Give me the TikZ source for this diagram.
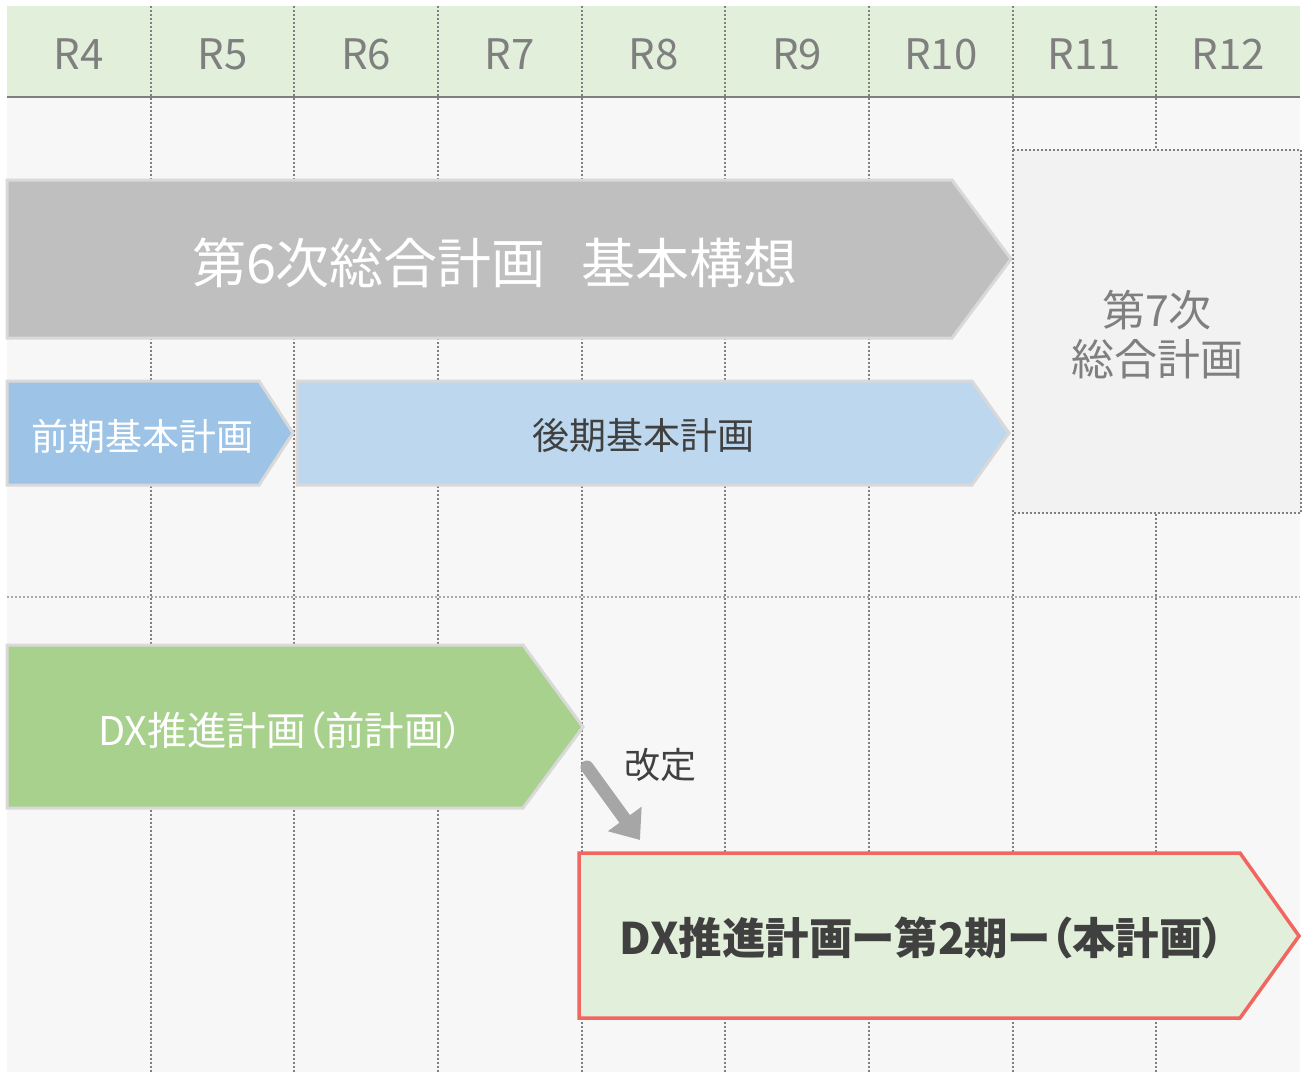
\documentclass[tikz,border=0pt]{standalone}
\usepackage{fontspec}
\setmainfont{Noto Sans CJK JP}
\newfontfamily\propfont[RawFeature=+palt]{Noto Sans CJK JP}
\usetikzlibrary{arrows.meta}
\definecolor{hdrfill}{HTML}{E2EFDA}
\definecolor{bgfill}{HTML}{F7F7F7}
\definecolor{hdrline}{HTML}{7F7F7F}
\definecolor{gridc}{HTML}{7F7F7F}
\definecolor{gridh}{HTML}{ABABAB}
\definecolor{planedge}{HTML}{D9D9D9}
\definecolor{grayplan}{HTML}{BFBFBF}
\definecolor{blueA}{HTML}{9DC3E6}
\definecolor{blueB}{HTML}{BDD7EE}
\definecolor{greenA}{HTML}{A9D18E}
\definecolor{greenB}{HTML}{E2EFDA}
\definecolor{redline}{HTML}{F26660}
\definecolor{boxfill}{HTML}{F2F2F2}
\definecolor{darktext}{HTML}{404040}
\definecolor{midtext}{HTML}{7F7F7F}
\definecolor{arrowc}{HTML}{A6A6A6}
\newcommand{\fsz}[1]{\fontsize{#1}{#1}\selectfont}
\tikzset{
  gridline/.style={draw=gridc, line width=2pt, dash pattern=on 2pt off 2pt},
  hgridline/.style={draw=gridh, line width=2pt, dash pattern=on 2pt off 2pt},
  planshape/.style={draw=planedge, line width=3pt, line join=miter},
  yearlabel/.style={text=midtext, font=\fsz{42}, inner sep=0pt},
  plantext/.style={font=\fsz{#1}, inner sep=0pt},
}
\begin{document}
\begin{tikzpicture}[x=1pt,y=-1pt]
\useasboundingbox (0,0) rectangle (1310,1072);
\fill[white] (0,0) rectangle (1310,1072);
\fill[bgfill] (7,97) rectangle (1300,1072);
\fill[hdrfill] (7,6) rectangle (1300,97);
\draw[hdrline, line width=2pt] (7,97) -- (1300,97);
\foreach \i in {1,...,8} \draw[gridline] ({7+143.67*\i},6) -- ({7+143.67*\i},1072);
\draw[hgridline] (7,597) -- (1300,597);
% year labels
\foreach \i/\t in {0/R4,1/R5,2/R6,3/R7,4/R8,5/R9,6/R10,7/R11,8/R12}
  \node[yearlabel] (y\i) at ({7+143.67*(\i+0.5)},54) {\t};
% 6th plan
\draw[planshape, fill=grayplan] (7,180) -- (952,180) -- (1011,259) -- (952,338) -- (7,338) -- cycle;
\node[plantext=54, text=white] (p6) at (495,263) {第6次総合計画\hspace{36pt}基本構想};
% early / late basic plans
\draw[planshape, fill=blueA] (7,381) -- (259,381) -- (293,433) -- (259,485) -- (7,485) -- cycle;
\node[plantext=37, text=white] (early) at (142,436) {前期基本計画};
\draw[planshape, fill=blueB] (297,381) -- (972,381) -- (1009,433) -- (972,485) -- (297,485) -- cycle;
\node[plantext=37, text=darktext] (late) at (643,436) {後期基本計画};
% 7th plan box
\draw[gridline, fill=boxfill] (1013,150) rectangle (1301,513);
\node[plantext=43, text=midtext, align=center] (p7) at (1157,335) {第7次\\[6pt]総合計画};
% DX plan (previous)
\draw[planshape, fill=greenA] (7,645) -- (523,645) -- (583,727) -- (523,808) -- (7,808) -- cycle;
\node[text=white, inner sep=0pt, font={\propfont\fsz{39.5}}] (dx1) at (281,730) {DX推進計画（前計画）};
% DX plan 2
\draw[draw=redline, line width=3.5pt, line join=miter, fill=greenB] (579,853) -- (1240,853) -- (1299,936) -- (1240,1018) -- (579,1018) -- cycle;
\node[text=darktext, inner sep=0pt, font={\propfont\fsz{43.5}\bfseries}] (dx2) at (922,938) {DX推進計画ー第2期ー（本計画）};
% revision arrow
\coordinate (revstart) at (587,767);
\coordinate (revend) at (640,840);
\draw[arrowc, line width=13pt, line cap=round, -{Triangle[length=26pt,width=40pt]}] (revstart) -- (revend);
\node[plantext=36, text=darktext] (rev) at (660,765) {改定};
\end{tikzpicture}
\end{document}
